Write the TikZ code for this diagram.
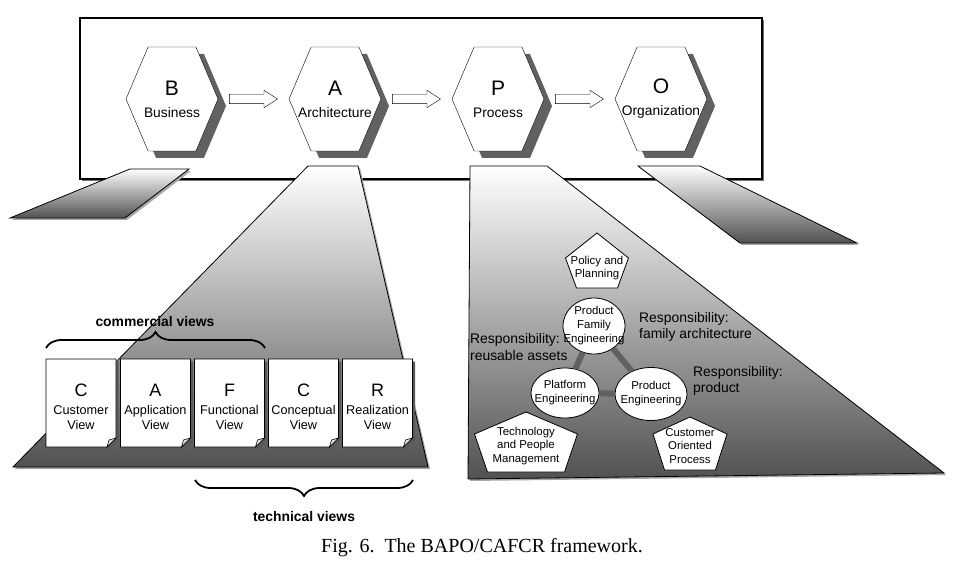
\documentclass[tikz,border=0pt]{standalone}
\usepackage{fontspec}
\setmainfont{Liberation Sans}
\newfontfamily\captionfont{Liberation Serif}
\usetikzlibrary{arrows.meta,positioning,shapes.geometric,shapes.symbols,shapes.arrows,shadows,decorations.pathreplacing}

\begin{document}
\begin{tikzpicture}[
  x=1pt, y=-1pt,
  font=\fontsize{13.8}{16}\selectfont,
  node distance=11pt,
  frame/.style={draw, line width=1.2pt, fill=white, drop shadow={shadow xshift=2pt, shadow yshift=-2pt, fill=black!55, opacity=1}},
  hexa/.style={signal, signal to=west and east, signal pointer angle=134, draw, fill=white, minimum width=92pt, minimum height=104pt, inner xsep=-20pt, inner ysep=0pt, align=center, font=\fontsize{13.8}{22}\selectfont, drop shadow={shadow xshift=8pt, shadow yshift=-7pt, fill=black!62, opacity=1}},
  blockarrow/.style={single arrow, draw, fill=white, inner xsep=0pt, inner ysep=4.5pt, single arrow head extend=4pt, single arrow tip angle=66, minimum height=48pt},
  beam/.style={draw, line width=0.8pt, top color=white, bottom color=black!68, drop shadow={shadow xshift=2pt, shadow yshift=-2pt, fill=black!35, opacity=1}},
  page/.style={draw, fill=white, line width=0.8pt, drop shadow={shadow xshift=2.5pt, shadow yshift=-2.5pt, fill=black!65, opacity=1}},
  fold/.style={draw, fill=black!12, line width=0.6pt},
  pagetext/.style={align=center, inner sep=0pt, font=\fontsize{12.7}{15}\selectfont},
  brace/.style={decorate, decoration={brace, amplitude=16pt}, line width=1.8pt},
  bracelabel/.style={font=\fontsize{13.9}{16}\selectfont\bfseries},
  oval/.style={ellipse, draw, fill=white, line width=0.8pt, inner sep=-12pt, align=center, font=\fontsize{11.4}{14}\selectfont},
  bond/.style={line width=6pt, black!62},
  pent/.style={draw, fill=white, line width=0.8pt},
  small/.style={align=center, inner sep=0pt, font=\fontsize{11.4}{13.5}\selectfont},
  resp/.style={anchor=west, align=left, inner sep=0pt, font=\fontsize{13.9}{16.5}\selectfont}
]
\useasboundingbox (0,0) rectangle (964,572);

% BAPO frame
\draw[frame] (80,18) rectangle (762,179);

% beams
\draw[beam] (130,169) -- (189,169) -- (125,218) -- (10,218) -- cycle;
\draw[beam] (308,166) -- (358,166) -- (428,467) -- (13,467) -- cycle;
\draw[beam] (470,166) -- (547,166) -- (944,473) -- (468,479) -- cycle;
\draw[beam] (638,166) -- (700,166) -- (857,243) -- (740,243) -- cycle;

% BAPO hexagons
\node[hexa] (bus) at (172,99) {{\fontsize{21}{22}\selectfont B}\\Business};
\node[blockarrow, right=of bus] (ar1) {};
\node[hexa, right=of ar1] (arch) {{\fontsize{21}{22}\selectfont A}\\Architecture};
\node[blockarrow, right=of arch] (ar2) {};
\node[hexa, right=of ar2] (proc) {{\fontsize{21}{22}\selectfont P}\\Process};
\node[blockarrow, right=of proc] (ar3) {};
\node[hexa, right=of ar3] (org) {{\fontsize{21}{22}\selectfont O}\\Organization};

% CAFCR views
\foreach \x/\l/\a/\n in {81/C/Customer/cust, 155.5/A/Application/appl, 229.5/F/Functional/func, 303.5/C/Conceptual/conc, 377.5/R/Realization/real}{
  \draw[page] (\x-35,359) -- (\x+35,359) -- (\x+35,438) -- (\x+26,447) -- (\x-35,447) -- cycle;
  \draw[fold] (\x+35,438) -- (\x+28,440) -- (\x+26,447) -- cycle;
  \node[pagetext] (\n) at (\x,407) {{\fontsize{18}{15}\selectfont \l}\\[3pt]\a\\View};
}
\draw[brace] (46,348) -- (265,348);
\node[bracelabel] (comm) at (155,322) {commercial views};
\draw[brace] (413,480) -- (195,480);
\node[bracelabel] (techv) at (304,517) {technical views};

% process triangle
\node[oval, minimum width=62pt, minimum height=56pt] (pfe) at (594,326) {Product\\Family\\Engineering};
\node[oval, minimum width=68pt, minimum height=50pt] (plat) at (565,393) {Platform\\Engineering};
\node[oval, minimum width=72pt, minimum height=53pt] (prod) at (651,394) {Product\\Engineering};
\draw[bond] (pfe) -- (plat);
\draw[bond] (plat) -- (prod);
\draw[bond] (prod) -- (pfe);

\foreach \n/\cx/\t/\m/\b/\hw/\bw/\ty/\txt in {pol/597/233/258/288/31.5/20.5/268/{Policy and\\Planning}, tpm/526/412/434/472/51.5/38.5/446/{Technology\\and People\\Management}, cop/690/417/434/470/37/25.5/446/{Customer\\Oriented\\Process}}{
  \draw[pent] (\cx,\t) -- (\cx+\hw,\m) -- (\cx+\bw,\b) -- (\cx-\bw,\b) -- (\cx-\hw,\m) -- cycle;
  \node[small] (\n) at (\cx,\ty) {\txt};
}

\node[resp] (rfam) at (639,327) {Responsibility:\\family architecture};
\node[resp] (rreu) at (470,347) {Responsibility:\\reusable assets};
\node[resp] (rprod) at (693,381) {Responsibility:\\product};

\node[font=\captionfont\fontsize{20}{22}\selectfont] (cap) at (482,548) {Fig. 6.\ \ The BAPO/CAFCR framework.};
\end{tikzpicture}
\end{document}
